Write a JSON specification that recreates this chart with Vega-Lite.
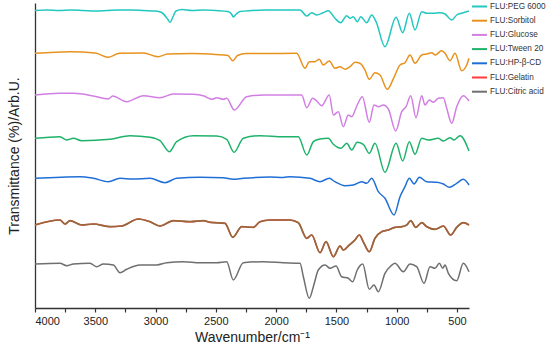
{
  "$schema": "https://vega.github.io/schema/vega-lite/v6.json",
  "autosize": "none",
  "width": 434,
  "height": 305,
  "padding": {"left": 35, "top": 3, "right": 81, "bottom": 50},
  "config": {"font": "Liberation Sans", "view": {"stroke": null}},
  "data": {"values": [
{"s":"FLU:PEG 6000","w":4000,"t":297.5},{"s":"FLU:PEG 6000","w":3900,"t":298},{"s":"FLU:PEG 6000","w":3800,"t":297.5},{"s":"FLU:PEG 6000","w":3700,"t":298},{"s":"FLU:PEG 6000","w":3600,"t":297.5},{"s":"FLU:PEG 6000","w":3500,"t":297},{"s":"FLU:PEG 6000","w":3400,"t":297.5},{"s":"FLU:PEG 6000","w":3300,"t":298},{"s":"FLU:PEG 6000","w":3200,"t":298},{"s":"FLU:PEG 6000","w":3100,"t":297.5},{"s":"FLU:PEG 6000","w":3000,"t":297},{"s":"FLU:PEG 6000","w":2950,"t":295.5},{"s":"FLU:PEG 6000","w":2900,"t":289},{"s":"FLU:PEG 6000","w":2880,"t":285.5},{"s":"FLU:PEG 6000","w":2860,"t":290},{"s":"FLU:PEG 6000","w":2830,"t":297},{"s":"FLU:PEG 6000","w":2780,"t":298.5},{"s":"FLU:PEG 6000","w":2700,"t":297.5},{"s":"FLU:PEG 6000","w":2600,"t":298},{"s":"FLU:PEG 6000","w":2500,"t":297.5},{"s":"FLU:PEG 6000","w":2400,"t":296.5},{"s":"FLU:PEG 6000","w":2370,"t":294},{"s":"FLU:PEG 6000","w":2355,"t":291},{"s":"FLU:PEG 6000","w":2330,"t":294},{"s":"FLU:PEG 6000","w":2300,"t":296.5},{"s":"FLU:PEG 6000","w":2200,"t":297.5},{"s":"FLU:PEG 6000","w":2100,"t":298},{"s":"FLU:PEG 6000","w":2050,"t":298},{"s":"FLU:PEG 6000","w":1802,"t":298},{"s":"FLU:PEG 6000","w":1746,"t":292},{"s":"FLU:PEG 6000","w":1705,"t":295.3},{"s":"FLU:PEG 6000","w":1663,"t":293},{"s":"FLU:PEG 6000","w":1609,"t":295.3},{"s":"FLU:PEG 6000","w":1567,"t":297.3},{"s":"FLU:PEG 6000","w":1512,"t":289.7},{"s":"FLU:PEG 6000","w":1464,"t":285.3},{"s":"FLU:PEG 6000","w":1414,"t":292.3},{"s":"FLU:PEG 6000","w":1387,"t":289.7},{"s":"FLU:PEG 6000","w":1360,"t":291.3},{"s":"FLU:PEG 6000","w":1327,"t":286.3},{"s":"FLU:PEG 6000","w":1298,"t":291.3},{"s":"FLU:PEG 6000","w":1249,"t":285.3},{"s":"FLU:PEG 6000","w":1207,"t":293},{"s":"FLU:PEG 6000","w":1171,"t":286.3},{"s":"FLU:PEG 6000","w":1097,"t":261.3},{"s":"FLU:PEG 6000","w":1005,"t":290.7},{"s":"FLU:PEG 6000","w":950,"t":275.3},{"s":"FLU:PEG 6000","w":895,"t":294.7},{"s":"FLU:PEG 6000","w":848,"t":278},{"s":"FLU:PEG 6000","w":792,"t":296.3},{"s":"FLU:PEG 6000","w":751,"t":294.7},{"s":"FLU:PEG 6000","w":696,"t":294.7},{"s":"FLU:PEG 6000","w":641,"t":295.3},{"s":"FLU:PEG 6000","w":599,"t":294},{"s":"FLU:PEG 6000","w":543,"t":288},{"s":"FLU:PEG 6000","w":502,"t":293},{"s":"FLU:PEG 6000","w":447,"t":295.3},{"s":"FLU:PEG 6000","w":400,"t":297},
{"s":"FLU:Sorbitol","w":4000,"t":254.7},{"s":"FLU:Sorbitol","w":3710,"t":256.3},{"s":"FLU:Sorbitol","w":3500,"t":255},{"s":"FLU:Sorbitol","w":3394,"t":250.7},{"s":"FLU:Sorbitol","w":3300,"t":254.7},{"s":"FLU:Sorbitol","w":3100,"t":255},{"s":"FLU:Sorbitol","w":2980,"t":251.3},{"s":"FLU:Sorbitol","w":2900,"t":254},{"s":"FLU:Sorbitol","w":2700,"t":254.5},{"s":"FLU:Sorbitol","w":2500,"t":253.5},{"s":"FLU:Sorbitol","w":2400,"t":252.5},{"s":"FLU:Sorbitol","w":2360,"t":247.3},{"s":"FLU:Sorbitol","w":2320,"t":252.5},{"s":"FLU:Sorbitol","w":2250,"t":254.5},{"s":"FLU:Sorbitol","w":2100,"t":254.5},{"s":"FLU:Sorbitol","w":1830,"t":254.7},{"s":"FLU:Sorbitol","w":1760,"t":239.7},{"s":"FLU:Sorbitol","w":1725,"t":246.3},{"s":"FLU:Sorbitol","w":1680,"t":246.3},{"s":"FLU:Sorbitol","w":1642,"t":248.7},{"s":"FLU:Sorbitol","w":1609,"t":243},{"s":"FLU:Sorbitol","w":1559,"t":247},{"s":"FLU:Sorbitol","w":1512,"t":239.7},{"s":"FLU:Sorbitol","w":1470,"t":241.3},{"s":"FLU:Sorbitol","w":1429,"t":238.7},{"s":"FLU:Sorbitol","w":1387,"t":241.3},{"s":"FLU:Sorbitol","w":1346,"t":245.7},{"s":"FLU:Sorbitol","w":1305,"t":244.7},{"s":"FLU:Sorbitol","w":1263,"t":238},{"s":"FLU:Sorbitol","w":1227,"t":228.7},{"s":"FLU:Sorbitol","w":1180,"t":235.3},{"s":"FLU:Sorbitol","w":1138,"t":233},{"s":"FLU:Sorbitol","w":1078,"t":218.7},{"s":"FLU:Sorbitol","w":1022,"t":230.7},{"s":"FLU:Sorbitol","w":972,"t":243},{"s":"FLU:Sorbitol","w":931,"t":245.3},{"s":"FLU:Sorbitol","w":889,"t":253},{"s":"FLU:Sorbitol","w":848,"t":244.7},{"s":"FLU:Sorbitol","w":792,"t":253},{"s":"FLU:Sorbitol","w":751,"t":254},{"s":"FLU:Sorbitol","w":709,"t":255.3},{"s":"FLU:Sorbitol","w":680,"t":253},{"s":"FLU:Sorbitol","w":627,"t":257.3},{"s":"FLU:Sorbitol","w":599,"t":254.7},{"s":"FLU:Sorbitol","w":557,"t":247.3},{"s":"FLU:Sorbitol","w":516,"t":254.7},{"s":"FLU:Sorbitol","w":461,"t":237.3},{"s":"FLU:Sorbitol","w":419,"t":243},{"s":"FLU:Sorbitol","w":400,"t":249.7},
{"s":"FLU:Glucose","w":4000,"t":213},{"s":"FLU:Glucose","w":3793,"t":214.7},{"s":"FLU:Glucose","w":3682,"t":214.7},{"s":"FLU:Glucose","w":3516,"t":212},{"s":"FLU:Glucose","w":3392,"t":209},{"s":"FLU:Glucose","w":3356,"t":212},{"s":"FLU:Glucose","w":3240,"t":206.3},{"s":"FLU:Glucose","w":3100,"t":212.3},{"s":"FLU:Glucose","w":2963,"t":210.3},{"s":"FLU:Glucose","w":2853,"t":214},{"s":"FLU:Glucose","w":2687,"t":213.7},{"s":"FLU:Glucose","w":2604,"t":212.3},{"s":"FLU:Glucose","w":2534,"t":208.7},{"s":"FLU:Glucose","w":2493,"t":210.3},{"s":"FLU:Glucose","w":2438,"t":208.7},{"s":"FLU:Glucose","w":2410,"t":209.7},{"s":"FLU:Glucose","w":2347,"t":198},{"s":"FLU:Glucose","w":2244,"t":211.3},{"s":"FLU:Glucose","w":2100,"t":213},{"s":"FLU:Glucose","w":1788,"t":213},{"s":"FLU:Glucose","w":1746,"t":200.3},{"s":"FLU:Glucose","w":1697,"t":209.7},{"s":"FLU:Glucose","w":1663,"t":207},{"s":"FLU:Glucose","w":1622,"t":202.3},{"s":"FLU:Glucose","w":1559,"t":213},{"s":"FLU:Glucose","w":1525,"t":193},{"s":"FLU:Glucose","w":1484,"t":196.3},{"s":"FLU:Glucose","w":1443,"t":181.3},{"s":"FLU:Glucose","w":1401,"t":193},{"s":"FLU:Glucose","w":1373,"t":191.3},{"s":"FLU:Glucose","w":1327,"t":203},{"s":"FLU:Glucose","w":1285,"t":211.3},{"s":"FLU:Glucose","w":1227,"t":185.7},{"s":"FLU:Glucose","w":1188,"t":203},{"s":"FLU:Glucose","w":1152,"t":201.3},{"s":"FLU:Glucose","w":1111,"t":203},{"s":"FLU:Glucose","w":1069,"t":199},{"s":"FLU:Glucose","w":1008,"t":177},{"s":"FLU:Glucose","w":958,"t":196.3},{"s":"FLU:Glucose","w":922,"t":201.3},{"s":"FLU:Glucose","w":883,"t":212.3},{"s":"FLU:Glucose","w":840,"t":190.3},{"s":"FLU:Glucose","w":792,"t":212.3},{"s":"FLU:Glucose","w":765,"t":203},{"s":"FLU:Glucose","w":729,"t":208},{"s":"FLU:Glucose","w":696,"t":205.7},{"s":"FLU:Glucose","w":655,"t":209.7},{"s":"FLU:Glucose","w":613,"t":210.3},{"s":"FLU:Glucose","w":585,"t":199.7},{"s":"FLU:Glucose","w":543,"t":184.7},{"s":"FLU:Glucose","w":502,"t":201.3},{"s":"FLU:Glucose","w":447,"t":212.3},{"s":"FLU:Glucose","w":400,"t":207},
{"s":"FLU:Tween 20","w":4000,"t":169.7},{"s":"FLU:Tween 20","w":3793,"t":171.3},{"s":"FLU:Tween 20","w":3737,"t":168},{"s":"FLU:Tween 20","w":3682,"t":169.7},{"s":"FLU:Tween 20","w":3613,"t":167.3},{"s":"FLU:Tween 20","w":3378,"t":168.7},{"s":"FLU:Tween 20","w":3212,"t":172.3},{"s":"FLU:Tween 20","w":3046,"t":170.7},{"s":"FLU:Tween 20","w":2963,"t":167.3},{"s":"FLU:Tween 20","w":2886,"t":156.3},{"s":"FLU:Tween 20","w":2825,"t":166.3},{"s":"FLU:Tween 20","w":2687,"t":172.3},{"s":"FLU:Tween 20","w":2493,"t":172},{"s":"FLU:Tween 20","w":2410,"t":168.7},{"s":"FLU:Tween 20","w":2349,"t":155.7},{"s":"FLU:Tween 20","w":2272,"t":169.7},{"s":"FLU:Tween 20","w":2134,"t":172.3},{"s":"FLU:Tween 20","w":1940,"t":171.3},{"s":"FLU:Tween 20","w":1816,"t":171.3},{"s":"FLU:Tween 20","w":1746,"t":153},{"s":"FLU:Tween 20","w":1691,"t":166.3},{"s":"FLU:Tween 20","w":1636,"t":169},{"s":"FLU:Tween 20","w":1567,"t":169.7},{"s":"FLU:Tween 20","w":1525,"t":163.7},{"s":"FLU:Tween 20","w":1462,"t":159.7},{"s":"FLU:Tween 20","w":1414,"t":164.7},{"s":"FLU:Tween 20","w":1373,"t":158},{"s":"FLU:Tween 20","w":1327,"t":165.7},{"s":"FLU:Tween 20","w":1277,"t":163.7},{"s":"FLU:Tween 20","w":1227,"t":154.7},{"s":"FLU:Tween 20","w":1180,"t":164.7},{"s":"FLU:Tween 20","w":1097,"t":135.7},{"s":"FLU:Tween 20","w":1005,"t":164.7},{"s":"FLU:Tween 20","w":950,"t":147},{"s":"FLU:Tween 20","w":895,"t":166.3},{"s":"FLU:Tween 20","w":848,"t":153.7},{"s":"FLU:Tween 20","w":792,"t":169.7},{"s":"FLU:Tween 20","w":737,"t":168},{"s":"FLU:Tween 20","w":655,"t":169.7},{"s":"FLU:Tween 20","w":613,"t":167},{"s":"FLU:Tween 20","w":557,"t":170.3},{"s":"FLU:Tween 20","w":524,"t":168},{"s":"FLU:Tween 20","w":474,"t":172.3},{"s":"FLU:Tween 20","w":400,"t":157},
{"s":"FLU:HP-β-CD","w":4000,"t":129.7},{"s":"FLU:HP-β-CD","w":3627,"t":131.3},{"s":"FLU:HP-β-CD","w":3516,"t":129.7},{"s":"FLU:HP-β-CD","w":3392,"t":126.3},{"s":"FLU:HP-β-CD","w":3295,"t":129.7},{"s":"FLU:HP-β-CD","w":3185,"t":129},{"s":"FLU:HP-β-CD","w":3046,"t":129.7},{"s":"FLU:HP-β-CD","w":2922,"t":125.3},{"s":"FLU:HP-β-CD","w":2825,"t":129.7},{"s":"FLU:HP-β-CD","w":2631,"t":130.7},{"s":"FLU:HP-β-CD","w":2438,"t":130.3},{"s":"FLU:HP-β-CD","w":2355,"t":128.7},{"s":"FLU:HP-β-CD","w":2272,"t":129.7},{"s":"FLU:HP-β-CD","w":2051,"t":131},{"s":"FLU:HP-β-CD","w":1940,"t":130.5},{"s":"FLU:HP-β-CD","w":1885,"t":131.3},{"s":"FLU:HP-β-CD","w":1719,"t":129.7},{"s":"FLU:HP-β-CD","w":1636,"t":126.3},{"s":"FLU:HP-β-CD","w":1559,"t":129.7},{"s":"FLU:HP-β-CD","w":1512,"t":126.3},{"s":"FLU:HP-β-CD","w":1429,"t":122.3},{"s":"FLU:HP-β-CD","w":1360,"t":123},{"s":"FLU:HP-β-CD","w":1290,"t":126.3},{"s":"FLU:HP-β-CD","w":1249,"t":124.7},{"s":"FLU:HP-β-CD","w":1207,"t":129.7},{"s":"FLU:HP-β-CD","w":1152,"t":116.3},{"s":"FLU:HP-β-CD","w":1097,"t":109.7},{"s":"FLU:HP-β-CD","w":1022,"t":93},{"s":"FLU:HP-β-CD","w":972,"t":111.3},{"s":"FLU:HP-β-CD","w":931,"t":121.3},{"s":"FLU:HP-β-CD","w":895,"t":129.7},{"s":"FLU:HP-β-CD","w":856,"t":124},{"s":"FLU:HP-β-CD","w":812,"t":130.7},{"s":"FLU:HP-β-CD","w":751,"t":126.3},{"s":"FLU:HP-β-CD","w":668,"t":125.7},{"s":"FLU:HP-β-CD","w":613,"t":124},{"s":"FLU:HP-β-CD","w":563,"t":120.7},{"s":"FLU:HP-β-CD","w":502,"t":124.7},{"s":"FLU:HP-β-CD","w":447,"t":128.7},{"s":"FLU:HP-β-CD","w":400,"t":123},
{"s":"FLU:Gelatin","w":4000,"t":83},{"s":"FLU:Gelatin","w":3793,"t":88},{"s":"FLU:Gelatin","w":3751,"t":84},{"s":"FLU:Gelatin","w":3710,"t":87.3},{"s":"FLU:Gelatin","w":3613,"t":83},{"s":"FLU:Gelatin","w":3516,"t":84},{"s":"FLU:Gelatin","w":3378,"t":81.3},{"s":"FLU:Gelatin","w":3281,"t":82},{"s":"FLU:Gelatin","w":3143,"t":89},{"s":"FLU:Gelatin","w":3046,"t":86.3},{"s":"FLU:Gelatin","w":2963,"t":82},{"s":"FLU:Gelatin","w":2853,"t":87.3},{"s":"FLU:Gelatin","w":2714,"t":86.3},{"s":"FLU:Gelatin","w":2604,"t":87.3},{"s":"FLU:Gelatin","w":2548,"t":85.7},{"s":"FLU:Gelatin","w":2424,"t":84.7},{"s":"FLU:Gelatin","w":2360,"t":70.7},{"s":"FLU:Gelatin","w":2285,"t":81.3},{"s":"FLU:Gelatin","w":2189,"t":80.7},{"s":"FLU:Gelatin","w":2134,"t":86.3},{"s":"FLU:Gelatin","w":2051,"t":88},{"s":"FLU:Gelatin","w":1940,"t":88},{"s":"FLU:Gelatin","w":1885,"t":88},{"s":"FLU:Gelatin","w":1816,"t":85.3},{"s":"FLU:Gelatin","w":1746,"t":69.7},{"s":"FLU:Gelatin","w":1705,"t":73},{"s":"FLU:Gelatin","w":1636,"t":55.3},{"s":"FLU:Gelatin","w":1586,"t":66.3},{"s":"FLU:Gelatin","w":1525,"t":51.3},{"s":"FLU:Gelatin","w":1470,"t":62},{"s":"FLU:Gelatin","w":1443,"t":58},{"s":"FLU:Gelatin","w":1393,"t":63},{"s":"FLU:Gelatin","w":1346,"t":68},{"s":"FLU:Gelatin","w":1310,"t":73},{"s":"FLU:Gelatin","w":1271,"t":64.7},{"s":"FLU:Gelatin","w":1227,"t":56.3},{"s":"FLU:Gelatin","w":1180,"t":69.7},{"s":"FLU:Gelatin","w":1124,"t":76.3},{"s":"FLU:Gelatin","w":1069,"t":78},{"s":"FLU:Gelatin","w":1014,"t":80.7},{"s":"FLU:Gelatin","w":958,"t":81.3},{"s":"FLU:Gelatin","w":917,"t":83},{"s":"FLU:Gelatin","w":883,"t":87.3},{"s":"FLU:Gelatin","w":842,"t":80.7},{"s":"FLU:Gelatin","w":792,"t":85.3},{"s":"FLU:Gelatin","w":751,"t":81.3},{"s":"FLU:Gelatin","w":682,"t":78.7},{"s":"FLU:Gelatin","w":613,"t":82},{"s":"FLU:Gelatin","w":552,"t":73},{"s":"FLU:Gelatin","w":502,"t":80.7},{"s":"FLU:Gelatin","w":447,"t":85.3},{"s":"FLU:Gelatin","w":400,"t":83},
{"s":"FLU:Citric acid","w":4000,"t":44},{"s":"FLU:Citric acid","w":3793,"t":44.7},{"s":"FLU:Citric acid","w":3737,"t":42.3},{"s":"FLU:Citric acid","w":3682,"t":44},{"s":"FLU:Citric acid","w":3544,"t":44.7},{"s":"FLU:Citric acid","w":3488,"t":41.3},{"s":"FLU:Citric acid","w":3433,"t":44},{"s":"FLU:Citric acid","w":3350,"t":43},{"s":"FLU:Citric acid","w":3295,"t":35.3},{"s":"FLU:Citric acid","w":3240,"t":38.7},{"s":"FLU:Citric acid","w":3129,"t":43},{"s":"FLU:Citric acid","w":2990,"t":43},{"s":"FLU:Citric acid","w":2908,"t":45.3},{"s":"FLU:Citric acid","w":2770,"t":46.3},{"s":"FLU:Citric acid","w":2631,"t":45.3},{"s":"FLU:Citric acid","w":2493,"t":45.3},{"s":"FLU:Citric acid","w":2410,"t":46.3},{"s":"FLU:Citric acid","w":2355,"t":28},{"s":"FLU:Citric acid","w":2272,"t":45.3},{"s":"FLU:Citric acid","w":2106,"t":46.3},{"s":"FLU:Citric acid","w":1940,"t":45.3},{"s":"FLU:Citric acid","w":1802,"t":44.7},{"s":"FLU:Citric acid","w":1774,"t":31.3},{"s":"FLU:Citric acid","w":1725,"t":9.7},{"s":"FLU:Citric acid","w":1691,"t":21.3},{"s":"FLU:Citric acid","w":1650,"t":38},{"s":"FLU:Citric acid","w":1594,"t":43},{"s":"FLU:Citric acid","w":1553,"t":39.7},{"s":"FLU:Citric acid","w":1503,"t":42},{"s":"FLU:Citric acid","w":1456,"t":31.3},{"s":"FLU:Citric acid","w":1401,"t":29.7},{"s":"FLU:Citric acid","w":1365,"t":26.3},{"s":"FLU:Citric acid","w":1327,"t":38},{"s":"FLU:Citric acid","w":1282,"t":44},{"s":"FLU:Citric acid","w":1227,"t":18.7},{"s":"FLU:Citric acid","w":1188,"t":23},{"s":"FLU:Citric acid","w":1152,"t":16.3},{"s":"FLU:Citric acid","w":1097,"t":34.7},{"s":"FLU:Citric acid","w":1049,"t":42},{"s":"FLU:Citric acid","w":1014,"t":44.7},{"s":"FLU:Citric acid","w":945,"t":36.3},{"s":"FLU:Citric acid","w":889,"t":44},{"s":"FLU:Citric acid","w":834,"t":41.3},{"s":"FLU:Citric acid","w":773,"t":24.7},{"s":"FLU:Citric acid","w":723,"t":41.3},{"s":"FLU:Citric acid","w":682,"t":39.7},{"s":"FLU:Citric acid","w":646,"t":44.7},{"s":"FLU:Citric acid","w":618,"t":39.7},{"s":"FLU:Citric acid","w":599,"t":43},{"s":"FLU:Citric acid","w":571,"t":34.7},{"s":"FLU:Citric acid","w":502,"t":27.3},{"s":"FLU:Citric acid","w":447,"t":44.7},{"s":"FLU:Citric acid","w":400,"t":36.3}
  ]},
  "encoding": {
    "x": {
      "field": "w", "type": "quantitative",
      "scale": {"domain": [4000, 400], "nice": false, "zero": false},
      "axis": {
        "title": "Wavenumber/cm⁻¹", "titleFontSize": 14, "titleFontWeight": "normal", "titleColor": "#222", "titlePadding": 4,
        "values": [4000,3750,3500,3250,3000,2750,2500,2250,2000,1750,1500,1250,1000,750,500],
        "labelExpr": "datum.value % 500 === 0 ? datum.label : ''",
        "format": "d", "labelFontSize": 11, "labelColor": "#222", "labelPadding": 3,
        "grid": false, "domainColor": "#333", "domainWidth": 1.3, "tickColor": "#333", "tickWidth": 1.2, "tickSize": 4
      }
    },
    "y": {
      "field": "t", "type": "quantitative",
      "scale": {"domain": [0, 305], "nice": false, "zero": false},
      "axis": {
        "title": "Transmittance (%)/Arb.U.", "titleFontSize": 14, "titleFontWeight": "normal", "titleColor": "#222",
        "labels": false, "ticks": false, "grid": false, "titlePadding": 14,
        "domainColor": "#333", "domainWidth": 1.3
      }
    }
  },
  "layer": [
    {
      "mark": {"type": "line", "strokeWidth": 1.5, "interpolate": "monotone"},
      "encoding": {
        "color": {
          "field": "s", "type": "nominal",
          "sort": ["FLU:PEG 6000","FLU:Sorbitol","FLU:Glucose","FLU:Tween 20","FLU:HP-β-CD","FLU:Gelatin","FLU:Citric acid"],
          "scale": {
            "domain": ["FLU:PEG 6000","FLU:Sorbitol","FLU:Glucose","FLU:Tween 20","FLU:HP-β-CD","FLU:Gelatin","FLU:Citric acid"],
            "range": ["#22c8bf","#e8921e","#d27fe3","#1fb26a","#1f6fd6","#ff3b3b","#6f6f6f"]
          },
          "legend": {
            "title": null, "orient": "none", "legendX": 436, "legendY": -5,
            "symbolType": "stroke", "symbolSize": 225, "symbolStrokeWidth": 2,
            "labelFontSize": 8.2, "labelFontWeight": "normal", "labelColor": "#333", "rowPadding": 1.2, "labelOffset": 2, "padding": 0
          }
        }
      }
    },
    {
      "transform": [{"filter": "datum.s === 'FLU:Gelatin'"}],
      "mark": {"type": "line", "strokeWidth": 1.7, "interpolate": "monotone", "color": "#96683c"}
    }
  ]
}
